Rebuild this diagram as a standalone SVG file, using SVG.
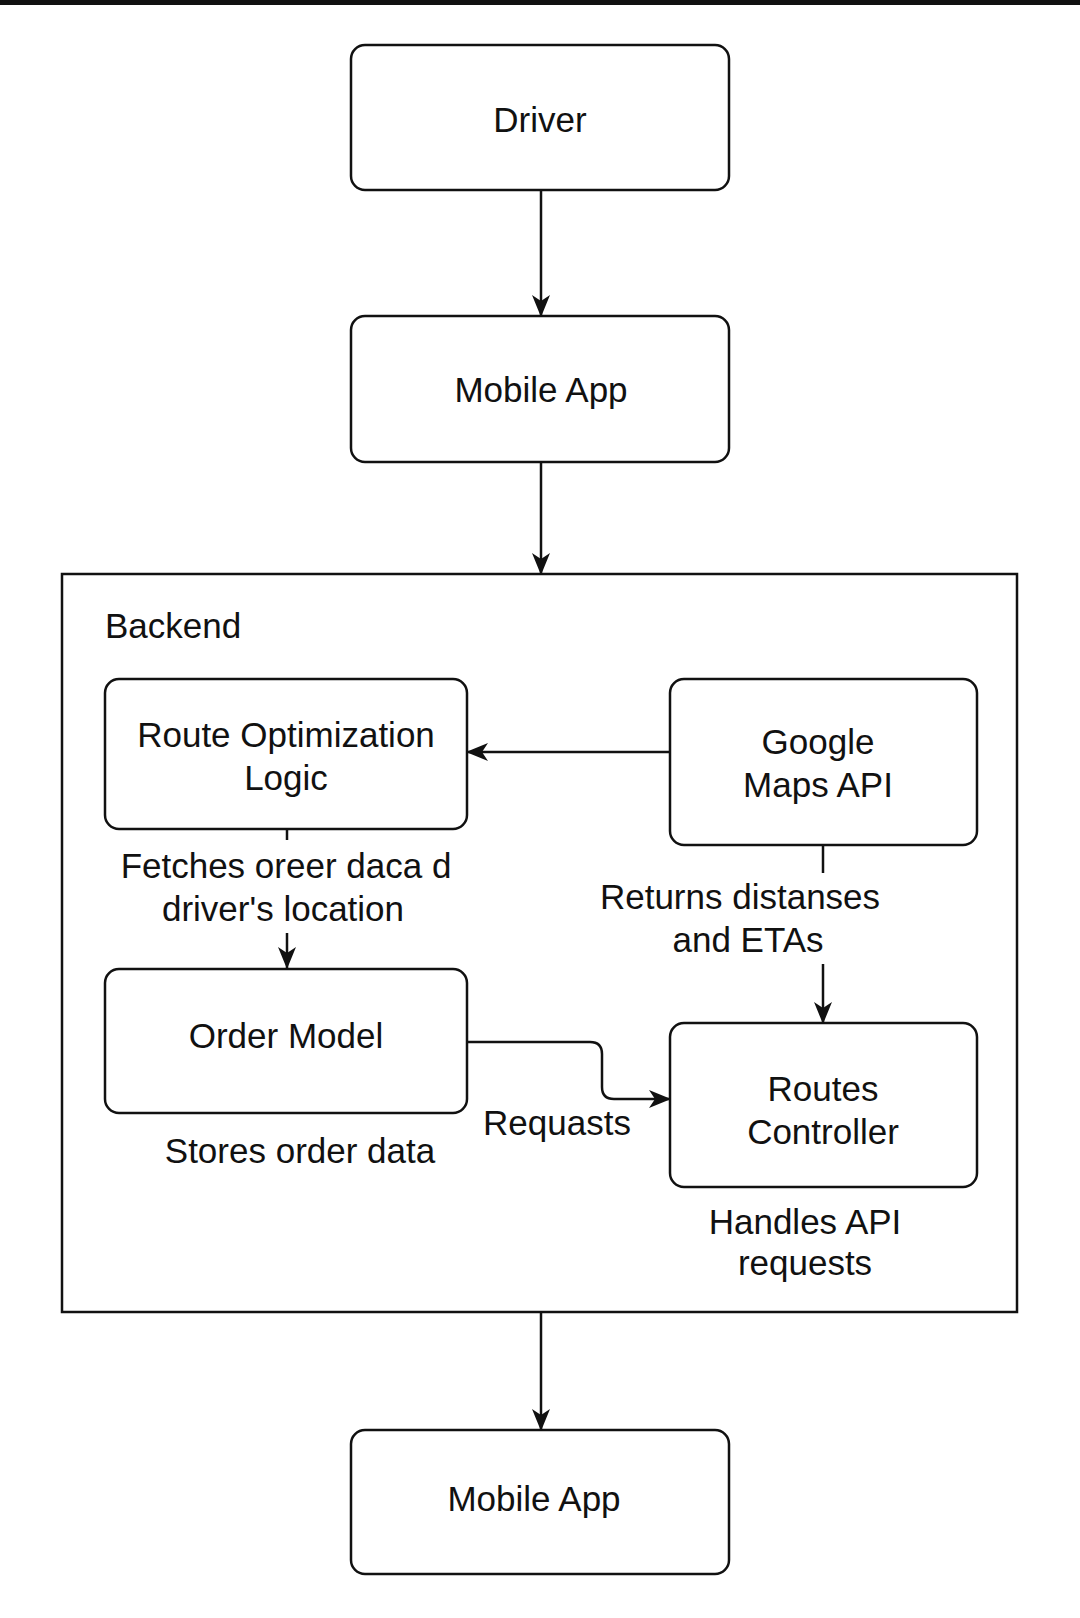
<svg xmlns="http://www.w3.org/2000/svg" width="1080" height="1618" viewBox="0 0 1080 1618">
<style>
.node{fill:#fff;stroke:#111;stroke-width:2.5}
.t{font-family:"Liberation Sans",Arial,Helvetica,sans-serif;font-size:35px;fill:#111;text-anchor:middle}
.tl{text-anchor:start}
.c{fill:none;stroke:#111;stroke-width:2.5}
</style>
<defs>
<marker id="arr" markerUnits="userSpaceOnUse" markerWidth="22" markerHeight="18" refX="21" refY="9" orient="auto">
<path d="M0,0 L22,9 L0,18 L6,9 z" fill="#111"/>
</marker>
</defs>
<rect width="1080" height="1618" fill="#fff"/>
<rect x="0" y="0" width="1080" height="5" fill="#111"/>

<g id="backend">
<rect x="62" y="574" width="955" height="738" fill="#fff" stroke="#111" stroke-width="2.5"/>
<text class="t tl" x="105" y="638">Backend</text>
</g>

<g id="driver">
<rect class="node" x="351" y="45" width="378" height="145" rx="14"/>
<text class="t" x="540" y="132">Driver</text>
</g>

<g id="mobile-app-top">
<rect class="node" x="351" y="316" width="378" height="146" rx="14"/>
<text class="t" x="541" y="402">Mobile App</text>
</g>

<g id="route-optimization">
<rect class="node" x="105" y="679" width="362" height="150" rx="14"/>
<text class="t" x="286" y="747">Route Optimization</text>
<text class="t" x="286" y="790">Logic</text>
</g>

<g id="google-maps">
<rect class="node" x="670" y="679" width="307" height="166" rx="14"/>
<text class="t" x="818" y="754">Google</text>
<text class="t" x="818" y="797">Maps API</text>
</g>

<g id="order-model">
<rect class="node" x="105" y="969" width="362" height="144" rx="14"/>
<text class="t" x="286" y="1048">Order Model</text>
<text class="t" x="300" y="1163">Stores order data</text>
</g>

<g id="routes-controller">
<rect class="node" x="670" y="1023" width="307" height="164" rx="14"/>
<text class="t" x="823" y="1101">Routes</text>
<text class="t" x="823" y="1144">Controller</text>
<text class="t" x="805" y="1234">Handles API</text>
<text class="t" x="805" y="1275">requests</text>
</g>

<g id="mobile-app-bottom">
<rect class="node" x="351" y="1430" width="378" height="144" rx="14"/>
<text class="t" x="534" y="1511">Mobile App</text>
</g>

<g id="connectors">
<path class="c" d="M541,190 L541,316" marker-end="url(#arr)"/>
<path class="c" d="M541,462 L541,574" marker-end="url(#arr)"/>
<path class="c" d="M541,1312 L541,1430" marker-end="url(#arr)"/>
<path class="c" d="M670,752 L467,752" marker-end="url(#arr)"/>
<path class="c" d="M287,829 L287,840"/>
<path class="c" d="M287,933 L287,968" marker-end="url(#arr)"/>
<text class="t" x="286" y="878">Fetches oreer daca d</text>
<text class="t" x="283" y="921">driver's location</text>
<path class="c" d="M823,845 L823,873"/>
<path class="c" d="M823,964 L823,1023" marker-end="url(#arr)"/>
<text class="t" x="740" y="909">Returns distanses</text>
<text class="t" x="748" y="952">and ETAs</text>
<path class="c" d="M467,1042 L590,1042 Q602,1042 602,1054 L602,1087 Q602,1099 614,1099 L670,1099" marker-end="url(#arr)"/>
<text class="t" x="557" y="1135">Requasts</text>
</g>
</svg>
